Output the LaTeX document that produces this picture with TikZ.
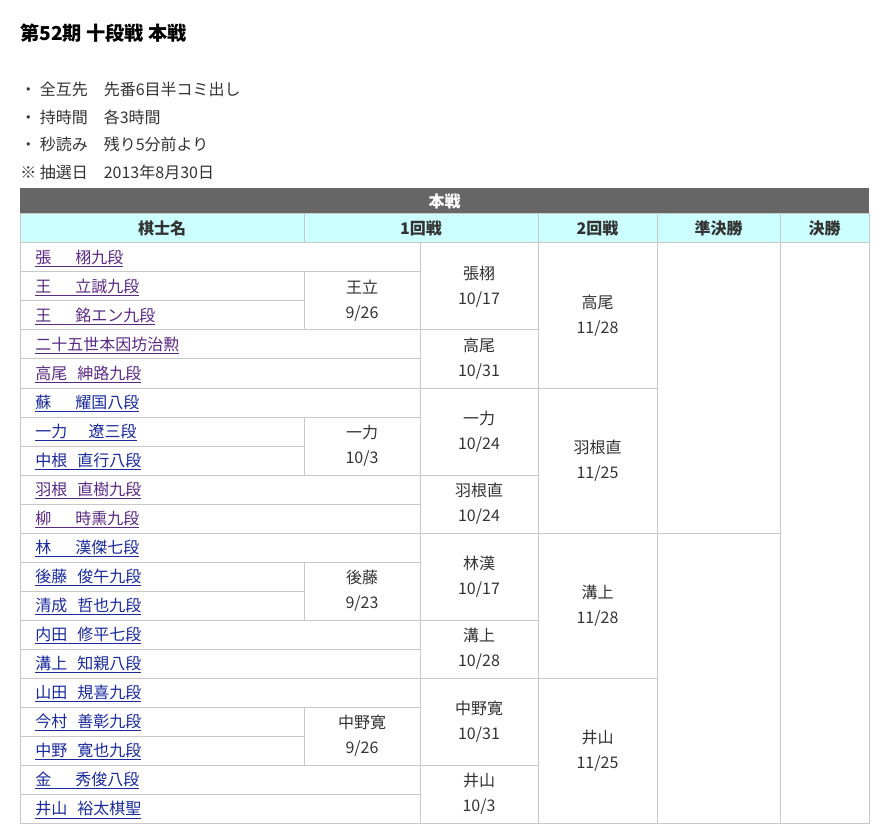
\documentclass[tikz,border=0pt]{standalone}
\usepackage{fontspec}
\setmainfont{Noto Sans CJK JP}
\definecolor{gridgray}{HTML}{C8C8C8}
\definecolor{bargray}{HTML}{666666}
\definecolor{headcyan}{HTML}{CCFFFF}
\definecolor{visited}{HTML}{5A2A82}
\definecolor{linkblue}{HTML}{1A2A9A}
\definecolor{txt}{HTML}{333333}
\tikzstyle{cell}=[draw=gridgray,line width=0.75pt]
\tikzstyle{info}=[anchor=base west,inner sep=0pt,text=txt,font=\fontsize{12}{14}\selectfont]
\tikzstyle{kname}=[anchor=base west,inner sep=0pt,font=\fontsize{12}{14}\selectfont]
\tikzstyle{result}=[align=center,inner sep=0pt,text=txt,font=\fontsize{12}{18.75}\selectfont]
\tikzstyle{colhead}=[inner sep=0pt,text=txt,font=\bfseries\fontsize{12}{14}\selectfont]
\newcommand{\kishi}[3][30pt]{\underline{\makebox[#1][l]{#2}#3}}

\begin{document}
\begin{tikzpicture}[x=0.75pt,y=-0.75pt]
\useasboundingbox (0,0) rectangle (882,834);
% heading and rules
\node[info,text=black,font=\bfseries\fontsize{14.4}{16}\selectfont] (title) at (20,41) {第52期 十段戦 本戦};
\node[info] (rule1) at (20,96) {・ 全互先　先番6目半コミ出し};
\node[info] (rule2) at (20,124) {・ 持時間　各3時間};
\node[info] (rule3) at (20,151) {・ 秒読み　残り5分前より};
\node[info] (draw) at (20,179) {※ 抽選日　2013年8月30日};
% table head
\fill[bargray] (20,188) rectangle (869,214);
\node[colhead,text=white] (honsen) at (444.5,201) {本戦};
\draw[cell,fill=headcyan] (20,214) rectangle (304,243);
\draw[cell,fill=headcyan] (304,214) rectangle (538,243);
\draw[cell,fill=headcyan] (538,214) rectangle (657,243);
\draw[cell,fill=headcyan] (657,214) rectangle (780,243);
\draw[cell,fill=headcyan] (780,214) rectangle (869,243);
\node[colhead] (hname) at (162,228.5) {棋士名};
\node[colhead] (hr1) at (421,228.5) {1回戦};
\node[colhead] (hr2) at (597.5,228.5) {2回戦};
\node[colhead] (hsemi) at (718.5,228.5) {準決勝};
\node[colhead] (hfinal) at (824.5,228.5) {決勝};
% grid of the four blocks
\foreach \g in {0,1,2,3} {
  \begin{scope}[shift={(0,\g*145)}]
    \draw[cell] (20,243) rectangle (420,272);
    \draw[cell] (20,272) rectangle (304,301);
    \draw[cell] (20,301) rectangle (304,330);
    \draw[cell] (304,272) rectangle (420,330);
    \draw[cell] (20,330) rectangle (420,359);
    \draw[cell] (20,359) rectangle (420,388);
    \draw[cell] (420,243) rectangle (538,330);
    \draw[cell] (420,330) rectangle (538,388);
    \draw[cell] (538,243) rectangle (657,388);
  \end{scope}
}
\draw[cell] (657,243) rectangle (780,533);
\draw[cell] (657,533) rectangle (780,823);
\draw[cell] (780,243) rectangle (869,823);
% players
\node[kname,text=visited] (p1) at (35,263.5) {\kishi{張}{栩九段}};
\node[kname,text=visited] (p2) at (35,292.5) {\kishi{王}{立誠九段}};
\node[kname,text=visited] (p3) at (35,321.5) {\kishi{王}{銘エン九段}};
\node[kname,text=visited] (p4) at (35,350.5) {\underline{二十五世本因坊治勲}};
\node[kname,text=visited] (p5) at (35,379.5) {\kishi[31.5pt]{高尾}{紳路九段}};
\node[kname,text=linkblue] (p6) at (35,408.5) {\kishi{蘇}{耀国八段}};
\node[kname,text=linkblue] (p7) at (35,437.5) {\kishi[40pt]{一力}{遼三段}};
\node[kname,text=linkblue] (p8) at (35,466.5) {\kishi[31.5pt]{中根}{直行八段}};
\node[kname,text=visited] (p9) at (35,495.5) {\kishi[31.5pt]{羽根}{直樹九段}};
\node[kname,text=visited] (p10) at (35,524.5) {\kishi{柳}{時熏九段}};
\node[kname,text=linkblue] (p11) at (35,553.5) {\kishi{林}{漢傑七段}};
\node[kname,text=linkblue] (p12) at (35,582.5) {\kishi[31.5pt]{後藤}{俊午九段}};
\node[kname,text=linkblue] (p13) at (35,611.5) {\kishi[31.5pt]{清成}{哲也九段}};
\node[kname,text=linkblue] (p14) at (35,640.5) {\kishi[31.5pt]{内田}{修平七段}};
\node[kname,text=linkblue] (p15) at (35,669.5) {\kishi[31.5pt]{溝上}{知親八段}};
\node[kname,text=linkblue] (p16) at (35,698.5) {\kishi[31.5pt]{山田}{規喜九段}};
\node[kname,text=linkblue] (p17) at (35,727.5) {\kishi[31.5pt]{今村}{善彰九段}};
\node[kname,text=linkblue] (p18) at (35,756.5) {\kishi[31.5pt]{中野}{寛也九段}};
\node[kname,text=linkblue] (p19) at (35,785.5) {\kishi{金}{秀俊八段}};
\node[kname,text=linkblue] (p20) at (35,814.5) {\kishi[31.5pt]{井山}{裕太棋聖}};
% results
\node[result] (a1) at (362,301) {王立\\9/26};
\node[result] (b1) at (479,286.5) {張栩\\10/17};
\node[result] (c1) at (479,359) {高尾\\10/31};
\node[result] (d1) at (597.5,315.5) {高尾\\11/28};
\node[result] (a2) at (362,446) {一力\\10/3};
\node[result] (b2) at (479,431.5) {一力\\10/24};
\node[result] (c2) at (479,504) {羽根直\\10/24};
\node[result] (d2) at (597.5,460.5) {羽根直\\11/25};
\node[result] (a3) at (362,591) {後藤\\9/23};
\node[result] (b3) at (479,576.5) {林漢\\10/17};
\node[result] (c3) at (479,649) {溝上\\10/28};
\node[result] (d3) at (597.5,605.5) {溝上\\11/28};
\node[result] (a4) at (362,736) {中野寛\\9/26};
\node[result] (b4) at (479,721.5) {中野寛\\10/31};
\node[result] (c4) at (479,794) {井山\\10/3};
\node[result] (d4) at (597.5,750.5) {井山\\11/25};
\end{tikzpicture}
\end{document}
